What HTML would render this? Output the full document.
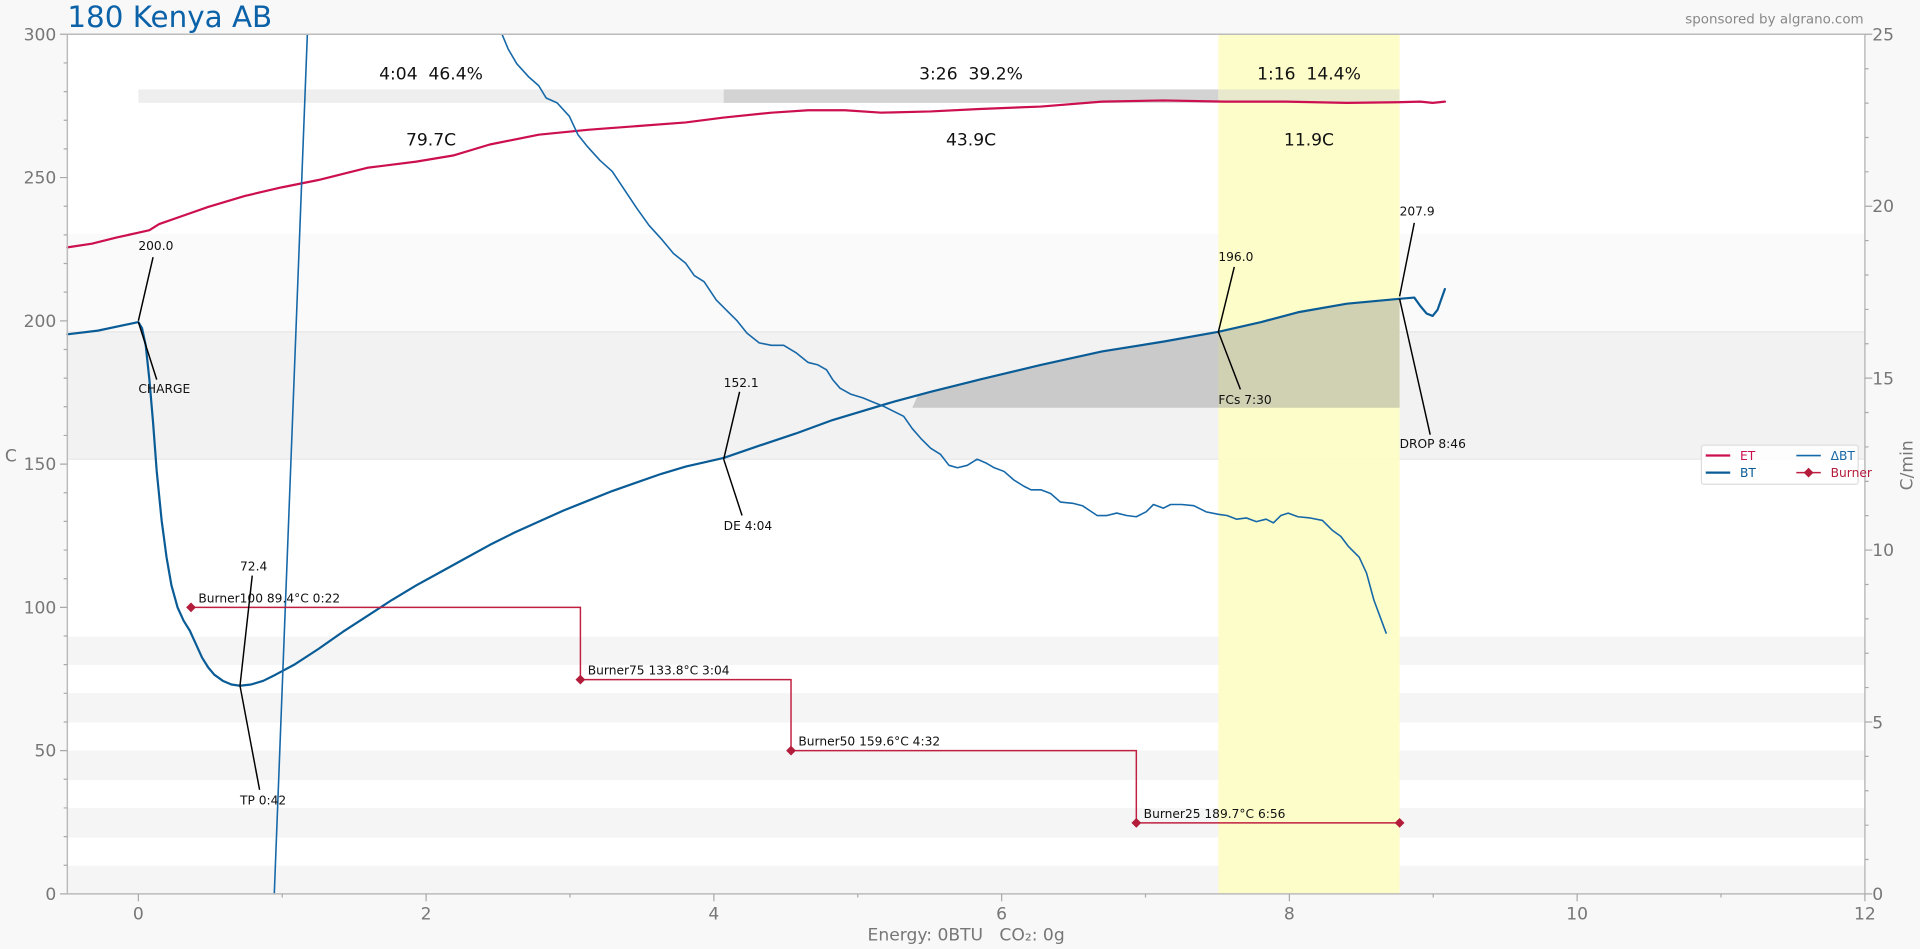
<!DOCTYPE html>
<html><head><meta charset="utf-8"><style>
html,body{margin:0;padding:0;background:#f8f8f8;}
svg{display:block;}
text{font-family:"DejaVu Sans","Liberation Sans",sans-serif;white-space:pre;}
</style></head><body>
<svg width="1920" height="949" viewBox="0 0 1568 775" xmlns="http://www.w3.org/2000/svg" xml:space="preserve">
<rect width="1568" height="775" fill="#f8f8f8"/>
<rect x="55" y="28" width="1468" height="702" fill="#ffffff"/>
<rect x="55" y="191" width="1468" height="80" fill="#fafafa"/>
<rect x="55" y="271" width="1468" height="104" fill="#f2f2f2"/>
<line x1="55" y1="271" x2="1523" y2="271" stroke="#e6e6e6" stroke-width="1"/>
<line x1="55" y1="375" x2="1523" y2="375" stroke="#e6e6e6" stroke-width="1"/>
<g fill="#f5f5f5">
<rect x="55" y="520" width="1468" height="23"/>
<rect x="55" y="566" width="1468" height="24"/>
<rect x="55" y="613" width="1468" height="24"/>
<rect x="55" y="660" width="1468" height="24"/>
<rect x="55" y="707" width="1468" height="23"/>
</g>
<rect x="995" y="28" width="148" height="702" fill="#fdfdc6" opacity="0.95"/>
<polygon points="745,333 750,322 800,310 850,298 900,287 950,279 995,271 1030,263 1060,255 1100,248 1143,244 1143,333" fill="#999" opacity="0.45"/>
<rect x="113" y="73" width="478" height="11" fill="#eeeeee"/>
<rect x="591" y="73" width="404" height="11" fill="#d3d3d3"/>
<rect x="995" y="73" width="148" height="11" fill="#e8e8cc"/>
<g font-size="14" fill="#111" text-anchor="middle">
<text x="352" y="65">4:04  46.4%</text>
<text x="793" y="65">3:26  39.2%</text>
<text x="1069" y="65">1:16  14.4%</text>
<text x="352" y="119">79.7C</text>
<text x="793" y="119">43.9C</text>
<text x="1069" y="119">11.9C</text>
</g>
<g stroke-linejoin="round" stroke-linecap="round">
<polyline fill="none" stroke="#cc0f50" stroke-width="1.8" points="55,202 75,199 95,194 113,190 122,188 130,183 150,176 170,169 200,160 230,153 260,147 300,137 340,132 370,127 400,118 440,110 480,106 520,103 560,100 591,96 630,92 660,90 690,90 720,92 760,91 800,89 850,87 900,83 950,82 1000,83 1050,83 1100,84 1140,83.5 1160,83 1170,84 1180,83"/>
<polyline fill="none" stroke="#0a5c96" stroke-width="1.8" points="55,273 80,270 113,263 116,268 119,282 122,310 125,345 128,385 132,425 136,455 140,478 145,496 150,507 155,515 160,526 165,537 170,545 175,551 182,556 189,559 196,560 205,559 215,556 225,551 240,543 260,530 280,516 300,503 320,490 340,478 360,467 380,456 400,445 420,435 440,426 460,417 480,409 500,401 520,394 540,387 560,381 591,374 620,364 650,354 680,343 700,337 730,328 760,320 800,310 850,298 900,287 950,279 995,271 1030,263 1060,255 1100,248 1143,244 1155,243 1160,250 1165,256 1170,258 1174,253 1180,236"/>
<g fill="none" stroke="#1668a8" stroke-width="1.3">
<line x1="224" y1="730" x2="251" y2="28"/>
<polyline points="410,28 415,40 422,52 432,63 440,70 446,80 455,84 465,95 472,110 480,120 490,131 500,140 510,155 520,170 530,184 540,195 550,207 560,215 567,225 575,230 585,245 595,255 602,262 610,272 620,280 630,282 640,282 650,288 660,296 668,298 675,302 680,310 686,317 695,322 705,325 712,328 722,332 730,336 738,340 745,350 752,358 760,366 768,371 775,380 782,382 790,380 798,375 805,378 812,382 820,385 828,392 836,397 842,400 850,400 858,403 866,410 876,411 884,413 890,417 896,421 904,421 912,419 920,421 928,422 936,418 942,412 950,415 956,412 965,412 975,413 985,418 995,420 1002,421 1010,424 1018,423 1026,426 1034,424 1040,427 1046,421 1052,419 1060,422 1070,423 1080,425 1088,433 1095,438 1101,446 1110,455 1116,468 1122,490 1132,517"/>
</g>
</g>
<polyline fill="none" stroke="#c02040" stroke-width="1.2" points="156,496 474,496 474,555 646,555 646,613 928,613 928,672 1143,672"/>
<g fill="#b41c3c">
<polygon points="156,492 160,496 156,500 152,496"/>
<polygon points="474,551 478,555 474,559 470,555"/>
<polygon points="646,609 650,613 646,617 642,613"/>
<polygon points="928,668 932,672 928,676 924,672"/>
<polygon points="1143,668 1147,672 1143,676 1139,672"/>
</g>
<g font-size="10" fill="#111">
<text x="162" y="492">Burner100 89.4°C 0:22</text>
<text x="480" y="551">Burner75 133.8°C 3:04</text>
<text x="652" y="609">Burner50 159.6°C 4:32</text>
<text x="934" y="668">Burner25 189.7°C 6:56</text>
</g>
<g stroke="#000" stroke-width="1.2">
<line x1="125" y1="210" x2="113" y2="262"/><line x1="113" y1="263" x2="128" y2="310"/>
<line x1="206" y1="470" x2="196" y2="560"/><line x1="196" y1="560" x2="212" y2="645"/>
<line x1="604" y1="320" x2="591" y2="375"/><line x1="591" y1="375" x2="606" y2="421"/>
<line x1="1008" y1="218" x2="995" y2="271"/><line x1="995" y1="271" x2="1013" y2="318"/>
<line x1="1155" y1="182" x2="1143" y2="242"/><line x1="1143" y1="244" x2="1168" y2="355"/>
</g>
<g font-size="10" fill="#111">
<text x="113" y="204">200.0</text><text x="113" y="321">CHARGE</text>
<text x="196" y="466">72.4</text><text x="196" y="657">TP 0:42</text>
<text x="591" y="316">152.1</text><text x="591" y="433">DE 4:04</text>
<text x="995" y="213">196.0</text><text x="995" y="330">FCs 7:30</text>
<text x="1143" y="176">207.9</text><text x="1143" y="366">DROP 8:46</text>
</g>
<g stroke="#bbb" stroke-width="1.2" fill="none">
<line x1="55" y1="28" x2="1523" y2="28"/>
<line x1="55" y1="28" x2="55" y2="730"/>
<line x1="1523" y1="28" x2="1523" y2="730"/>
<line x1="55" y1="730" x2="1523" y2="730"/>
</g>
<g stroke="#aaa" stroke-width="1">
<path d="M49,28h6M49,145h6M49,262h6M49,379h6M49,496h6M49,613h6M49,730h6"/>
<path d="M52,51.4h3M52,74.8h3M52,98.2h3M52,121.6h3M52,168.4h3M52,191.8h3M52,215.2h3M52,238.6h3M52,285.4h3M52,308.8h3M52,332.2h3M52,355.6h3M52,402.4h3M52,425.8h3M52,449.2h3M52,472.6h3M52,519.4h3M52,542.8h3M52,566.2h3M52,589.6h3M52,636.4h3M52,659.8h3M52,683.2h3M52,706.6h3"/>
<path d="M1523,28h6M1523,168.4h6M1523,308.8h6M1523,449.2h6M1523,589.6h6M1523,730h6"/>
<path d="M1523,56.1h3M1523,84.2h3M1523,112.3h3M1523,140.3h3M1523,196.5h3M1523,224.6h3M1523,252.7h3M1523,280.7h3M1523,336.9h3M1523,365h3M1523,393.1h3M1523,421.1h3M1523,477.3h3M1523,505.4h3M1523,533.5h3M1523,561.5h3M1523,617.7h3M1523,645.8h3M1523,673.9h3M1523,701.9h3"/>
<path d="M113,730v6M348,730v6M583,730v6M818,730v6M1053,730v6M1288,730v6M1523,730v6"/>
<path d="M230.5,730v3M465.5,730v3M700.5,730v3M935.5,730v3M1170.5,730v3M1405.5,730v3"/>
</g>
<g font-size="14" fill="#777">
<g text-anchor="end">
<text x="46" y="33">300</text><text x="46" y="150">250</text><text x="46" y="267">200</text><text x="46" y="384">150</text><text x="46" y="501">100</text><text x="46" y="618">50</text><text x="46" y="735">0</text>
</g>
<text x="1529" y="33">25</text><text x="1529" y="173">20</text><text x="1529" y="314">15</text><text x="1529" y="454">10</text><text x="1529" y="595">5</text><text x="1529" y="735">0</text>
<g text-anchor="middle">
<text x="113" y="751">0</text><text x="348" y="751">2</text><text x="583" y="751">4</text><text x="818" y="751">6</text><text x="1053" y="751">8</text><text x="1288" y="751">10</text><text x="1523" y="751">12</text>
<text x="789" y="768">Energy: 0BTU   CO₂: 0g</text>
</g>
<text x="4" y="377">C</text>
<text transform="translate(1562,380) rotate(-90)" text-anchor="middle">C/min</text>
</g>
<text x="55" y="22" font-size="24" fill="#0b62a8">180 Kenya AB</text>
<text x="1522" y="19" font-size="11" fill="#888" text-anchor="end">sponsored by algrano.com</text>
<rect x="1389.5" y="363.5" width="128" height="32" rx="2" fill="#fff" fill-opacity="0.85" stroke="#ddd"/>
<line x1="1393" y1="372" x2="1413" y2="372" stroke="#cc0f50" stroke-width="1.8"/>
<text x="1421" y="375.5" font-size="10" fill="#cc0f50">ET</text>
<line x1="1393" y1="386" x2="1413" y2="386" stroke="#0a5c96" stroke-width="1.8"/>
<text x="1421" y="389.5" font-size="10" fill="#0a5c96">BT</text>
<line x1="1467" y1="372" x2="1487" y2="372" stroke="#1668a8" stroke-width="1.3"/>
<text x="1495" y="375.5" font-size="10" fill="#1668a8">ΔBT</text>
<line x1="1467" y1="386" x2="1487" y2="386" stroke="#c02040" stroke-width="1.2"/>
<polygon points="1477,382 1481,386 1477,390 1473,386" fill="#b41c3c"/>
<text x="1482" y="389.5" font-size="10" fill="#b41c3c" dx="13">Burner</text>
</svg>
</body></html>
